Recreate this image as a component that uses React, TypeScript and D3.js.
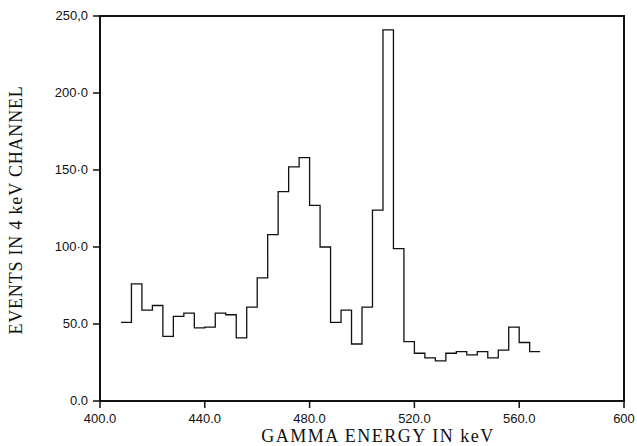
import React from "react";
import * as d3 from "d3";

// Lower edges of the 4 keV channels (keV)
const binLow = [
  408, 412, 416, 420, 424, 428, 432, 436, 440, 444,
  448, 452, 456, 460, 464, 468, 472, 476, 480, 484,
  488, 492, 496, 500, 504, 508, 512, 516, 520, 524,
  528, 532, 536, 540, 544, 548, 552, 556, 560, 564,
];
const binWidth = 4;
// Events per channel
const counts = [
  51, 76, 59, 62, 42, 55, 57, 47.5, 48, 57,
  56, 41, 61, 80, 108, 136, 152, 158, 127, 100,
  51, 59, 37, 61, 124, 241, 99, 38.5, 31, 28,
  26, 31, 32, 30, 32, 28, 33, 48, 38, 32,
];

const xTicks = [400, 440, 480, 520, 560, 600];
const xTickLabels = ["400.0", "440.0", "480.0", "520.0", "560.0", "600"];
const yTicks = [0, 50, 100, 150, 200, 250];
const yTickLabels = ["0.0", "50.0", "100·0", "150·0", "200·0", "250,0"];

const xTitle = "GAMMA ENERGY IN keV";
const yTitle = "EVENTS IN 4 keV CHANNEL";

export default function App() {
  const W = 637;
  const H = 446;
  const left = 100, right = 624, top = 16, bottom = 401;
  const x = d3.scaleLinear().domain([400, 600]).range([left, right]);
  const y = d3.scaleLinear().domain([0, 250]).range([bottom, top]);

  const pts: [number, number][] = binLow.map((e, i) => [e, counts[i]]);
  pts.push([binLow[binLow.length - 1] + binWidth, counts[counts.length - 1]]);
  const line = d3
    .line<[number, number]>()
    .x((d) => x(d[0]))
    .y((d) => y(d[1]))
    .curve(d3.curveStepAfter);

  const sans = "'Liberation Sans', Arial, sans-serif";
  const serif = "'Liberation Serif', 'Times New Roman', serif";

  return (
    <svg
      width={W}
      height={H}
      style={{ position: "absolute", left: 0, top: 0, background: "#fff" }}
    >
      <rect x={0} y={0} width={W} height={H} fill="#fff" />
      {/* frame */}
      <rect
        x={left}
        y={top}
        width={right - left}
        height={bottom - top}
        fill="none"
        stroke="#111"
        strokeWidth={2}
      />
      {/* x ticks */}
      {xTicks.map((t, i) => (
        <g key={"xt" + i}>
          <line x1={x(t)} x2={x(t)} y1={bottom} y2={bottom + 7} stroke="#111" strokeWidth={1.5} />
          <text
            x={x(t)}
            y={bottom + 22}
            textAnchor="middle"
            fontFamily={sans}
            fontSize={13}
            fill="#111"
          >
            {xTickLabels[i]}
          </text>
        </g>
      ))}
      {/* y ticks */}
      {yTicks.map((t, i) => (
        <g key={"yt" + i}>
          <line x1={left - 7} x2={left} y1={y(t)} y2={y(t)} stroke="#111" strokeWidth={1.5} />
          <text
            x={left - 12}
            y={y(t) + 4}
            textAnchor="end"
            fontFamily={sans}
            fontSize={13}
            fill="#111"
          >
            {yTickLabels[i]}
          </text>
        </g>
      ))}
      {/* histogram */}
      <path d={line(pts) || ""} fill="none" stroke="#111" strokeWidth={1.3} />
      {/* titles */}
      <text
        x={378}
        y={442}
        textAnchor="middle"
        fontFamily={serif}
        fontSize={18}
        letterSpacing={1.5}
        fill="#111"
      >
        {xTitle}
      </text>
      <text
        transform={`translate(22, 210) rotate(-90)`}
        textAnchor="middle"
        fontFamily={serif}
        fontSize={18}
        letterSpacing={0.8}
        fill="#111"
      >
        {yTitle}
      </text>
    </svg>
  );
}
